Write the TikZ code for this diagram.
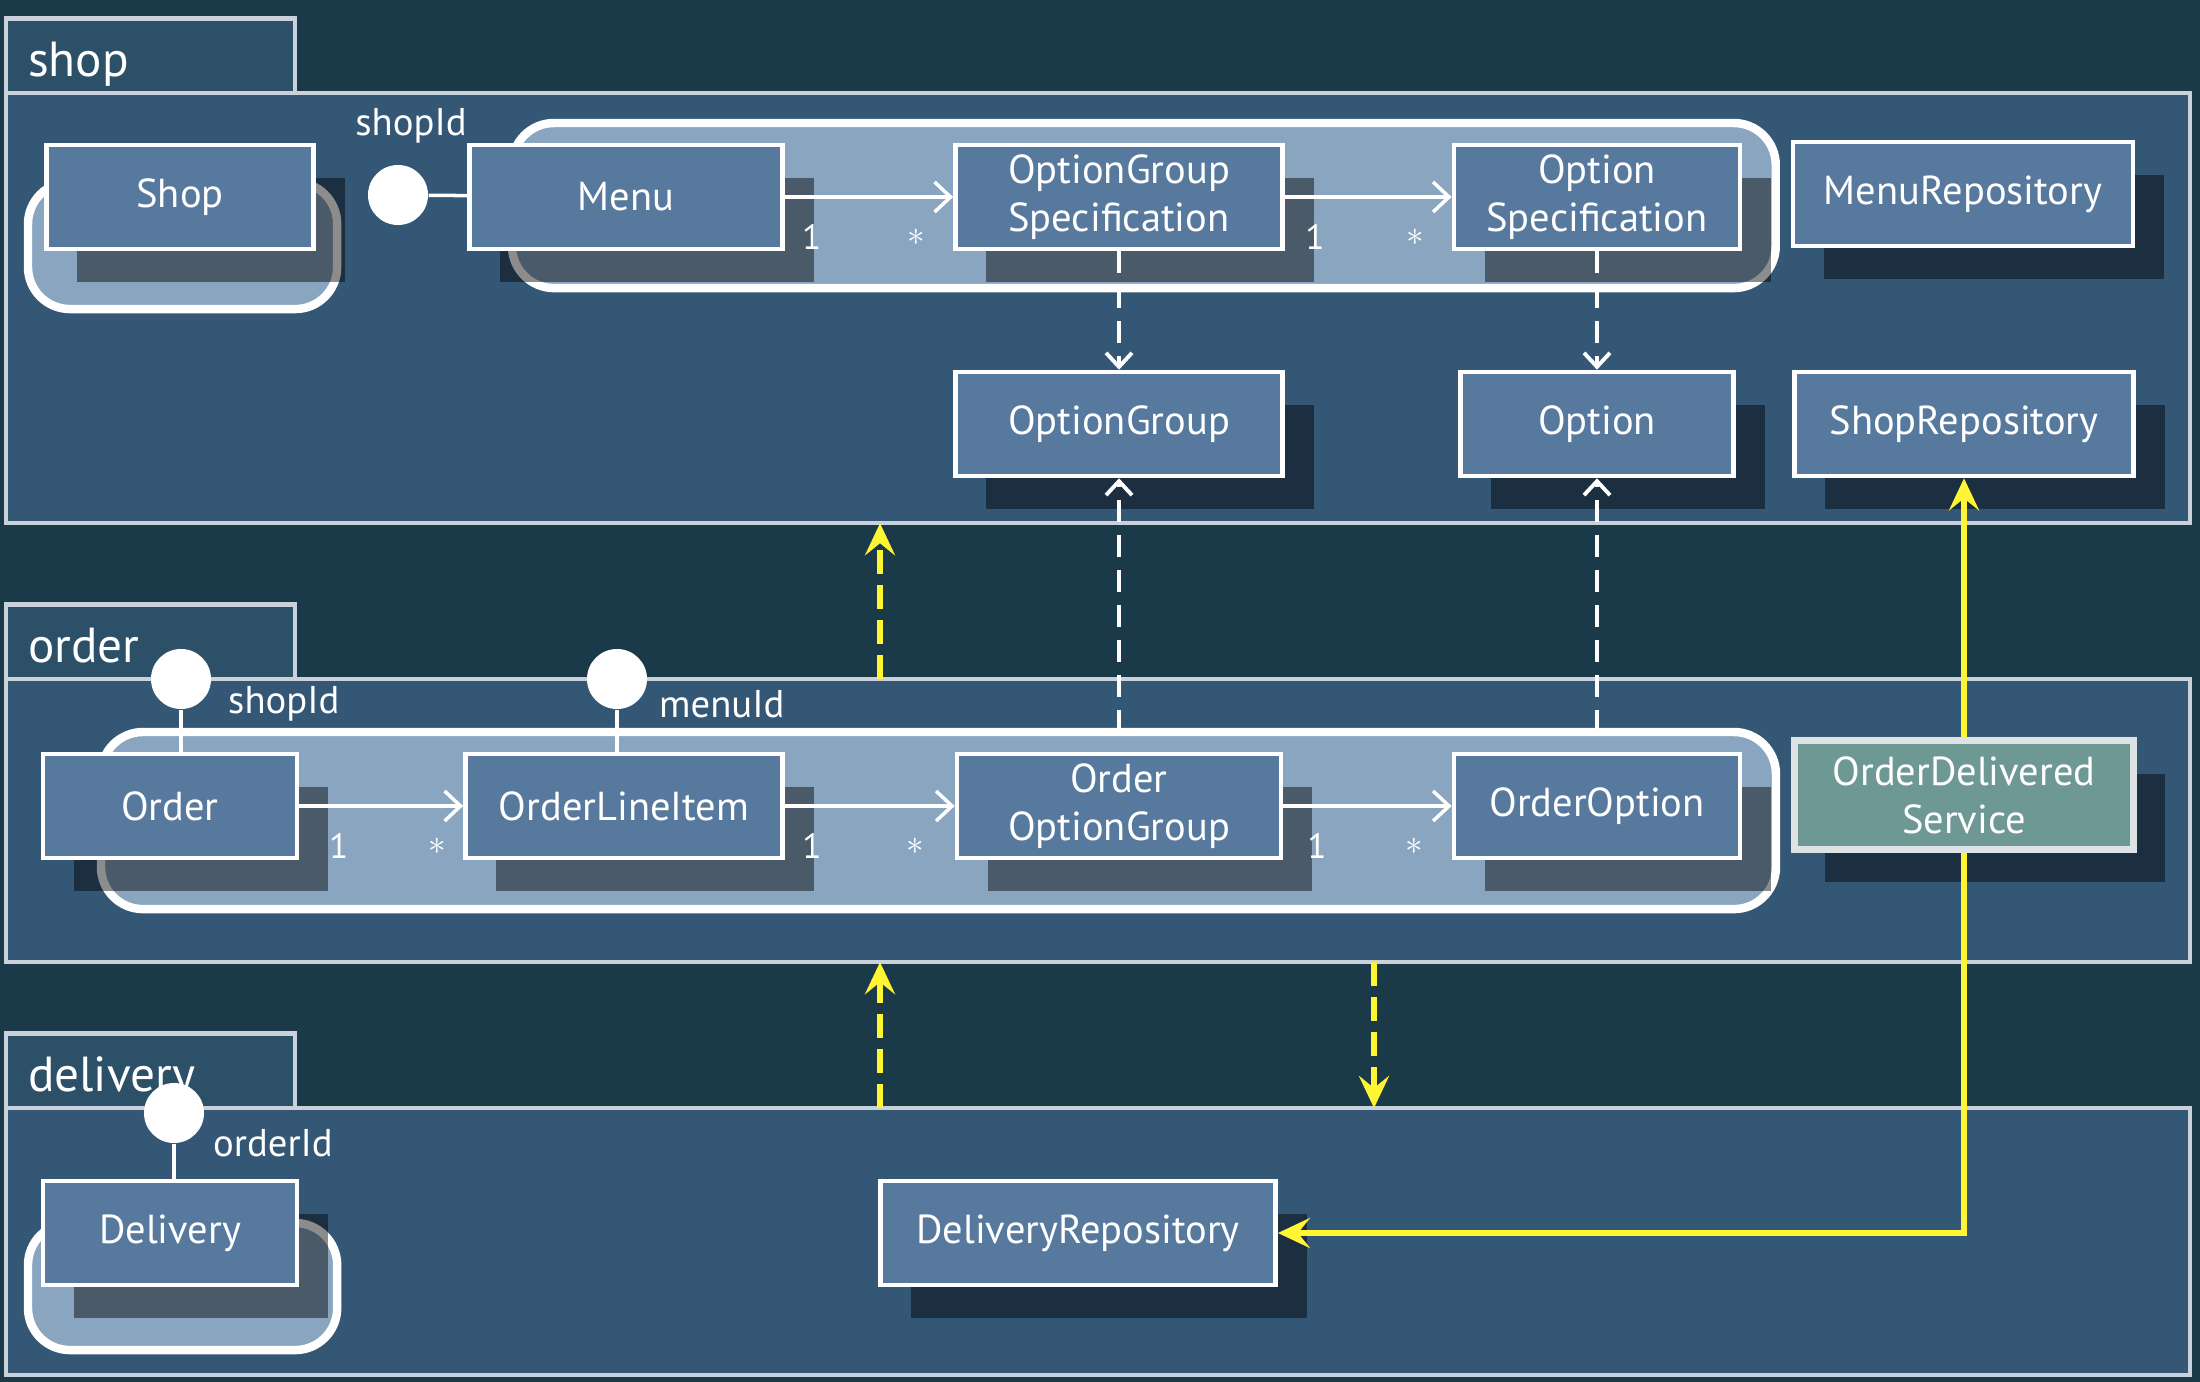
\documentclass[tikz,border=0pt]{standalone}
\usepackage{fontspec}
\setmainfont{PT Sans}
\usetikzlibrary{arrows.meta, positioning, shadows, backgrounds}
\definecolor{bgdark}{HTML}{1B3A49}
\definecolor{pkgfill}{HTML}{335775}
\definecolor{tabfill}{HTML}{2D5069}
\definecolor{pkgline}{HTML}{C9D2DA}
\definecolor{agglight}{HTML}{8AA5C0}
\definecolor{boxblue}{HTML}{57799E}
\definecolor{svcgreen}{HTML}{6E9893}
\definecolor{svcline}{HTML}{DDE3E5}
\definecolor{hiyellow}{HTML}{FFF533}

\begin{document}
\begin{tikzpicture}[x=0.01cm, y=-0.01cm,
        pkg/.style={rectangle, draw=pkgline, line width=1.2pt, fill=pkgfill, minimum width=21.83cm, anchor=north west, inner sep=0pt, outer sep=0pt},
        pkgtab/.style={rectangle, draw=pkgline, line width=1.2pt, fill=tabfill, minimum height=0.73cm, text height=0.46cm, text depth=0.05cm, text width=2.45cm, inner xsep=0.22cm, align=left, anchor=south west, outer sep=0pt, text=white, font=\fontsize{14}{16}\selectfont},
        agg/.style={rectangle, draw=white, line width=2.4pt, fill=agglight, rounded corners=0.42cm, inner sep=0pt, outer sep=0pt, anchor=north west},
        cls/.style={rectangle, draw=white, line width=1.3pt, fill=boxblue, text=white, minimum height=1.04cm, inner sep=1pt, align=center, font=\fontsize{11.5}{13.6}\selectfont, drop shadow={shadow xshift=0.31cm, shadow yshift=-0.33cm, fill=black, opacity=0.45}},
        svc/.style={cls, fill=svcgreen, draw=svcline, line width=2pt},
        port/.style={circle, fill=white, minimum size=0.6cm, inner sep=0pt},
        portlbl/.style={text=white, inner sep=1pt, font=\fontsize{11}{13}\selectfont},
        wire/.style={white, line width=1pt},
        assoc/.style={-{Straight Barb[length=0.16cm, width=0.3cm]}, white, line width=1pt},
        mult/.style={text=white, inner sep=1pt, below=0.22cm, font=\fontsize{10}{11}\selectfont},
        many/.style={mult, yshift=-0.05cm},
        dep/.style={-{Straight Barb[length=0.14cm, width=0.26cm]}, white, line width=1.1pt, dash pattern=on 0.22cm off 0.13cm},
        xdep/.style={-{Stealth[length=0.32cm, width=0.3cm, inset=0.12cm]}, hiyellow, line width=1.5pt, dash pattern=on 0.24cm off 0.11cm},
        uses/.style={-{Stealth[length=0.32cm, width=0.3cm, inset=0.12cm]}, hiyellow, line width=1.5pt}
    ]
        \useasboundingbox (0,0) rectangle (2200,1382);

        % Packages
        \begin{scope}[on background layer]
            \fill[bgdark] (0,0) rectangle (2200,1382);
            \node[pkg, minimum height=4.30cm] (shoppkg) at (6,93) {};
            \node[pkgtab] (shoptab) at (shoppkg.north west) {shop};
            \node[pkg, minimum height=2.83cm] (orderpkg) at (6,679) {};
            \node[pkgtab] (ordertab) at (orderpkg.north west) {order};
            \node[pkg, minimum height=2.67cm] (delpkg) at (6,1108) {};
            \node[pkgtab] (deltab) at (delpkg.north west) {delivery};
        \end{scope}

        % Aggregates
        \node[agg, minimum width=3.09cm, minimum height=1.27cm] (shopagg) at (28,182) {};
        \node[agg, minimum width=12.63cm, minimum height=1.65cm] (menuagg) at (512,123) {};
        \node[agg, minimum width=16.74cm, minimum height=1.77cm] (orderagg) at (101,732) {};
        \node[agg, minimum width=3.09cm, minimum height=1.27cm] (delagg) at (28,1223) {};

        % shop
        \node[cls, minimum width=2.67cm] (shop) at (180,197) {Shop};
        \node[cls, minimum width=3.13cm] (menu) at (626,197) {Menu};
        \node[cls, minimum width=3.27cm] (ogspec) at (1119,197) {OptionGroup\\Specification};
        \node[cls, minimum width=2.86cm] (ospec) at (1597,197) {Option\\Specification};
        \node[cls, minimum width=3.40cm] (menurepo) at (1963,194) {MenuRepository};
        \node[cls, minimum width=3.27cm] (optgroup) at (1119,424) {OptionGroup};
        \node[cls, minimum width=2.73cm] (option) at (1597,424) {Option};
        \node[cls, minimum width=3.39cm] (shoprepo) at (1964,424) {ShopRepository};

        % order
        \node[cls, minimum width=2.54cm] (order) at (170,806) {Order};
        \node[cls, minimum width=3.17cm] (lineitem) at (624,806) {OrderLineItem};
        \node[cls, minimum width=3.24cm] (ordergroup) at (1119,806) {Order\\OptionGroup};
        \node[cls, minimum width=2.86cm] (orderoption) at (1597,806) {OrderOption};
        \node[svc, minimum width=3.39cm, minimum height=1.08cm] (delivered) at (1964,795) {OrderDelivered\\Service};

        % delivery
        \node[cls, minimum width=2.54cm] (delivery) at (170,1233) {Delivery};
        \node[cls, minimum width=3.95cm] (delrepo) at (1078,1233) {DeliveryRepository};

        % Id references
        \node[port] (menuport) at (398,195) {};
        \node[portlbl] (menulbl) at (411,126) {shopId};
        \draw[wire] (menuport) -- (menu);
        \node[port] (shopport) at (181,679) {};
        \node[portlbl, anchor=west] (shoplbl) at (224,704) {shopId};
        \draw[wire] (shopport) -- (shopport |- order.north);
        \node[port] (itemport) at (617,679) {};
        \node[portlbl, anchor=west] (itemlbl) at (655,704) {menuId};
        \draw[wire] (itemport) -- (itemport |- lineitem.north);
        \node[port] (delport) at (174,1113) {};
        \node[portlbl, anchor=west] (dellbl) at (209,1143) {orderId};
        \draw[wire] (delport) -- (delport |- delivery.north);

        % Associations
        \draw[assoc] (menu) -- node[mult, pos=0.16] {1} node[many, pos=0.78] {$\ast$} (ogspec);
        \draw[assoc] (ogspec) -- node[mult, pos=0.18] {1} node[many, pos=0.78] {$\ast$} (ospec);
        \draw[assoc] (order) -- node[mult, pos=0.24] {1} node[many, pos=0.84] {$\ast$} (lineitem);
        \draw[assoc] (lineitem) -- node[mult, pos=0.16] {1} node[many, pos=0.77] {$\ast$} (ordergroup);
        \draw[assoc] (ordergroup) -- node[mult, pos=0.2] {1} node[many, pos=0.78] {$\ast$} (orderoption);

        % Dependencies
        \draw[dep] (ogspec) -- (optgroup);
        \draw[dep] (ospec) -- (option);
        \draw[dep] (ordergroup.north |- orderagg.north) -- (optgroup);
        \draw[dep] (orderoption.north |- orderagg.north) -- (option);

        % Package dependencies
        \draw[xdep] (orderpkg.north -| 880,0) -- (shoppkg.south -| 880,0);
        \draw[xdep] (delpkg.north -| 880,0) -- (orderpkg.south -| 880,0);
        \draw[xdep] (orderpkg.south -| 1374,0) -- (delpkg.north -| 1374,0);
        \draw[uses] (delivered) -- (shoprepo);
        \draw[uses] (delivered) |- (delrepo);
    \end{tikzpicture}
\end{document}
